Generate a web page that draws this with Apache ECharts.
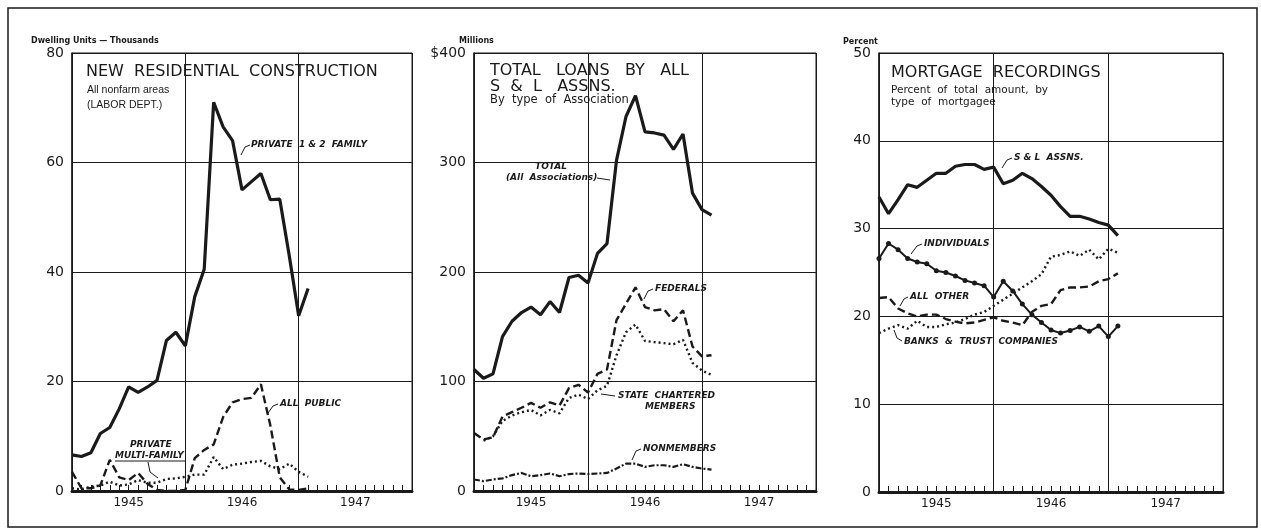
<!DOCTYPE html>
<html>
<head>
<meta charset="utf-8">
<script src="https://cdn.jsdelivr.net/npm/echarts@6/dist/echarts.min.js"></script>
<style>
  html, body { margin: 0; padding: 0; background: #fff; }
  #chart { width: 1261px; height: 529px; }
</style>
</head>
<body>
<div id="chart"></div>
<script>
// months counted from the start of 1945 (0 = Jan 1945)
const years = ['1945', '1946', '1947'];

// panel 1: new residential construction, thousands of dwelling units
const private12Family = [6.6, 6.3, 7.0, 10.5, 11.6, 15, 19, 18, 19, 20.2, 27.5, 29, 26.5, 35.5, 40.5, 71, 66.5, 64, 55, 56.5, 58, 53.2, 53.3, 43, 32, 37];
const allPublic = [3.5, 0.5, 0.5, 1, 5.7, 2.5, 2, 3.3, 1.3, 0.2, 0, 0, 0.2, 6, 7.5, 8.5, 13.5, 16.2, 16.8, 17, 19.5, 12, 2.5, 0.3, 0.2, 0.5];
const privateMulti = [0.5, 0.3, 0.8, 1, 1.7, 1, 1.2, 2, 1.5, 1.5, 2.2, 2.3, 2.6, 3, 3, 6.2, 4, 4.8, 5, 5.3, 5.5, 4.5, 4, 5, 3.5, 2.6];

// panel 2: total loans by all S&L associations, millions of dollars
const totalLoans = [111, 103, 107, 141, 155, 163, 168, 161, 173, 163, 195, 197, 190, 217, 226, 302, 342, 361, 328, 327, 325, 312, 326, 272, 257, 252];
const federals = [53, 47, 49, 68, 72, 76, 80.5, 76, 81, 78, 94, 97, 90, 107, 111, 156, 171, 186, 168, 165, 166, 155, 165, 132, 123, 124];
const stateChartered = [null, 46, 50, 64, 69, 72, 74, 69, 74, 71, 85, 88, 84, 92, 96, 124, 145, 152, 137, 136, 135, 134, 138, 117, 110, 106];
const nonmembers = [10.5, 9, 10.5, 11.5, 14.5, 16.5, 13.5, 14.5, 16, 13.5, 15.5, 16, 15.5, 16, 16.5, 20.5, 25, 25, 22, 23.5, 23.5, 22, 24.5, 22, 20.5, 19.5];

// panel 3: mortgage recordings, percent of total amount
const slAssns = [33.6, 31.7, 33.3, 35.0, 34.7, 35.5, 36.3, 36.3, 37.1, 37.3, 37.3, 36.75, 37.0, 35.1, 35.5, 36.3, 35.7, 34.8, 33.8, 32.5, 31.4, 31.4, 31.1, 30.7, 30.4, 29.2];
const individuals = [26.6, 28.3, 27.6, 26.6, 26.2, 26.0, 25.2, 25.0, 24.6, 24.1, 23.8, 23.5, 22.2, 24.0, 22.9, 21.4, 20.2, 19.3, 18.45, 18.1, 18.4, 18.8, 18.3, 18.9, 17.7, 18.9];
const allOther = [22.1, 22.2, 20.9, 20.35, 20.0, 20.2, 20.2, 19.7, 19.4, 19.2, 19.3, 19.6, 19.9, 19.5, 19.3, 19.0, 20.5, 21.2, 21.4, 23.0, 23.3, 23.3, 23.4, 24.0, 24.25, 24.9];
const banksTrust = [18.1, 18.6, 19.0, 18.6, 19.5, 18.8, 18.8, 19.1, 19.3, 19.7, 20.2, 20.5, 21.2, 21.9, 22.6, 23.3, 24.0, 24.8, 26.8, 27.0, 27.4, 26.9, 27.6, 26.5, 27.7, 27.25];

const INK = '#1a1a1a';
const FONT = 'DejaVu Sans';

let el = document.getElementById('chart');
let chart = echarts.init(el);

function toPairs(arr) {
	return arr.map((v, i) => [i, v]).filter(p => p[1] !== null);
}

const grids = [
	{ left: 72, top: 53, width: 340, height: 438 },
	{ left: 474, top: 53, width: 342, height: 438 },
	{ left: 879, top: 53, width: 344, height: 439 }
];

let xAxes = [];
grids.forEach((g, gi) => {
	// main month axis: year dividers + monthly ticks
	xAxes.push({
		type: 'value', gridIndex: gi, min: 0, max: 36, interval: 12, position: 'bottom',
		axisLine: { show: true, lineStyle: { color: INK, width: 3 } },
		axisTick: { show: true, inside: true, length: 9, lineStyle: { color: INK, width: 1 } },
		minorTick: { show: true, splitNumber: 12, length: 6, lineStyle: { color: INK, width: 1 } },
		axisLabel: { show: false },
		splitLine: { show: true, lineStyle: { color: INK, width: 1 } }
	});
	// year labels centred in each year
	xAxes.push({
		type: 'value', gridIndex: gi, min: 0, max: 36, interval: 6, position: 'bottom',
		axisLine: { show: false }, axisTick: { show: false }, splitLine: { show: false },
		axisLabel: {
			color: INK, fontFamily: FONT, fontSize: 12, margin: 6,
			formatter: v => (v % 12 === 6 ? years[(v - 6) / 12] : '')
		}
	});
});

function yAxis(gi, max, interval, fmt) {
	return {
		type: 'value', gridIndex: gi, min: 0, max: max, interval: interval,
		axisLine: { show: true, lineStyle: { color: INK, width: 1.5 } },
		axisTick: { show: false },
		axisLabel: { color: INK, fontFamily: FONT, fontSize: 14, margin: 8, formatter: fmt },
		splitLine: { show: true, lineStyle: { color: INK, width: 1 } }
	};
}

const yAxes = [
	yAxis(0, 80, 20),
	yAxis(1, 400, 100, v => (v === 400 ? '$400' : String(v))),
	yAxis(2, 50, 10)
];

function line(name, data, xi, yi, style, extra) {
	return Object.assign({
		name: name, type: 'line', xAxisIndex: xi, yAxisIndex: yi,
		data: toPairs(data), showSymbol: false, symbol: 'none', silent: true,
		lineStyle: Object.assign({ color: INK, width: 2.5 }, style)
	}, extra || {});
}

const series = [
	line('Private 1&2 family', private12Family, 0, 0, { width: 3.2 }),
	line('All public', allPublic, 0, 0, { type: [8, 4], width: 2.4 }),
	line('Private multi-family', privateMulti, 0, 0, { type: [2, 3], width: 2.4 }),

	line('Total', totalLoans, 2, 1, { width: 3.2 }),
	line('Federals', federals, 2, 1, { type: [8, 4], width: 2.4 }),
	line('State chartered members', stateChartered, 2, 1, { type: [2, 3], width: 2.4 }),
	line('Nonmembers', nonmembers, 2, 1, { type: [6, 2, 2, 2], width: 2.2 }),

	line('S & L Assns.', slAssns, 4, 2, { width: 3.2 }),
	line('Individuals', individuals, 4, 2, { width: 2 }, {
		showSymbol: true, symbol: 'circle', symbolSize: 5,
		itemStyle: { color: INK }
	}),
	line('All other', allOther, 4, 2, { type: [8, 4], width: 2.4 }),
	line('Banks & trust companies', banksTrust, 4, 2, { type: [2, 3], width: 2.4 })
];

function txt(x, y, text, size, opts) {
	return {
		type: 'text', left: x, top: y, silent: true,
		style: Object.assign({
			text: text, fill: INK, fontFamily: FONT, fontSize: size
		}, opts || {})
	};
}
function note(x, y, text) {
	return txt(x, y, text, 9, { fontStyle: 'italic', fontWeight: 'bold' });
}
function leader(points) {
	return {
		type: 'polyline', silent: true,
		shape: { points: points },
		style: { stroke: INK, lineWidth: 1, fill: null }
	};
}

const graphics = [
	// outer frame
	{ type: 'rect', silent: true, shape: { x: 8, y: 8, width: 1249, height: 519 },
		style: { stroke: INK, lineWidth: 1.5, fill: null } },

	// axis units
	txt(31, 37, 'Dwelling Units \u2014 Thousands', 8, { fontWeight: 'bold' }),
	txt(459, 37, 'Millions', 8, { fontWeight: 'bold' }),
	txt(843, 38, 'Percent', 8, { fontWeight: 'bold' }),

	// panel titles
	txt(86, 64, 'NEW  RESIDENTIAL  CONSTRUCTION', 16),
	txt(87, 85, 'All nonfarm areas', 10.5, { fontFamily: 'Liberation Sans' }),
	txt(87, 100, '(LABOR DEPT.)', 10.5, { fontFamily: 'Liberation Sans' }),

	txt(490, 63, 'TOTAL   LOANS   BY   ALL', 16),
	txt(490, 79, 'S  &  L   ASSNS.', 16),
	txt(490, 94, 'By  type  of  Association', 11.5),

	txt(891, 65, 'MORTGAGE  RECORDINGS', 16),
	txt(891, 85, 'Percent  of  total  amount,  by', 10.5),
	txt(891, 97, 'type  of  mortgagee', 10.5),

	// panel 1 notes
	note(251, 140, 'PRIVATE  1 & 2  FAMILY'),
	leader([[250, 145], [245, 147], [241, 155]]),
	note(280, 399, 'ALL  PUBLIC'),
	leader([[278, 404], [273, 406], [268, 413]]),
	note(130, 440, 'PRIVATE'),
	note(115, 451, 'MULTI-FAMILY'),
	leader([[115, 461], [185, 461]]),
	leader([[148, 462], [150, 472], [158, 478]]),

	// panel 2 notes
	note(535, 162, 'TOTAL'),
	note(506, 173, '(All  Associations)'),
	leader([[597, 178], [610, 180]]),
	note(655, 284, 'FEDERALS'),
	leader([[653, 289], [648, 291], [644, 299]]),
	note(618, 391, 'STATE  CHARTERED'),
	note(645, 402, 'MEMBERS'),
	leader([[615, 396], [601, 394]]),
	note(643, 444, 'NONMEMBERS'),
	leader([[641, 449], [636, 451], [632, 460]]),

	// panel 3 notes
	note(1014, 153, 'S & L  ASSNS.'),
	leader([[1012, 158], [1007, 160], [1002, 168]]),
	note(924, 239, 'INDIVIDUALS'),
	leader([[922, 244], [917, 246], [911, 254]]),
	note(910, 292, 'ALL  OTHER'),
	leader([[908, 297], [904, 299], [900, 306]]),
	note(904, 337, 'BANKS  &  TRUST  COMPANIES'),
	leader([[902, 341], [897, 338], [894, 330]])
];

let option = {
	backgroundColor: '#ffffff',
	animation: false,
	grid: grids.map(g => Object.assign({ show: true, borderColor: INK, borderWidth: 1, containLabel: false }, g)),
	xAxis: xAxes,
	yAxis: yAxes,
	series: series,
	graphic: graphics
};

chart.setOption(option);
</script>
</body>
</html>
